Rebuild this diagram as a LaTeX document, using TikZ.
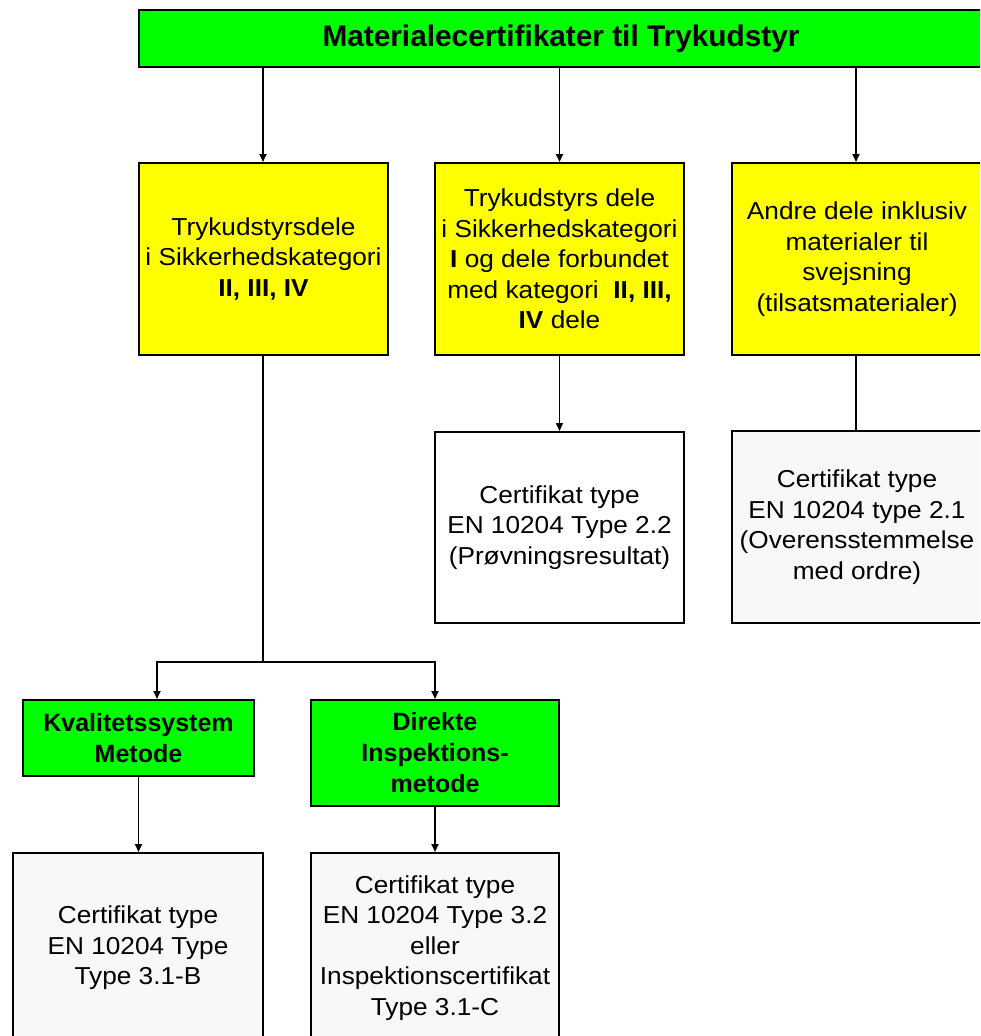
\documentclass[tikz,border=0pt]{standalone}
\usepackage{fontspec}
\setmainfont{Liberation Sans}
\newfontfamily\widefont{Liberation Sans}[FakeStretch=1.07]
\usetikzlibrary{arrows.meta}
\definecolor{boxgreen}{HTML}{00FF00}
\definecolor{boxyellow}{HTML}{FFFF00}
\definecolor{boxgray}{HTML}{F8F8F8}
\tikzset{
  box/.style={draw=black, line width=2pt, inner sep=0pt, align=center,
    font=\widefont\fontsize{24.5}{30.5}\selectfont},
  titlebox/.style={box, fill=boxgreen, minimum width=844pt, minimum height=57pt,
    font=\fontsize{29.8}{34}\selectfont\bfseries},
  catbox/.style={box, fill=boxyellow, minimum height=192pt},
  certbox/.style={box, minimum height=191pt},
  methodbox/.style={box, fill=boxgreen, font=\fontsize{25}{31}\selectfont\bfseries},
  conn/.style={line width=1.9pt},
  arr/.style={conn, -{Triangle[length=8pt,width=7pt]}}
}
\begin{document}
\begin{tikzpicture}[x=1pt, y=-1pt]
\useasboundingbox (0,0) rectangle (980,1036);
\clip (0,0) rectangle (980,1036);
\fill[white] (0,0) rectangle (980,1036);

\node[titlebox] (top) at (561,38.5) {Materialecertifikater til Trykudstyr};

\node[catbox, minimum width=249pt] (y1) at (263.5,259)
  {Trykudstyrsdele\\i Sikkerhedskategori\\\textbf{II, III, IV}};
\node[catbox, minimum width=249pt] (y2) at (559.5,259)
  {Trykudstyrs dele\\i Sikkerhedskategori\\\textbf{I} og dele forbundet\\med kategori\ \ \textbf{II, III,}\\\textbf{IV} dele};
\node[catbox, minimum width=250pt] (y3) at (857,259)
  {Andre dele inklusiv\\materialer til\\svejsning\\(tilsatsmaterialer)};

\node[certbox, fill=white, minimum width=249pt] (w2) at (559.5,527.5)
  {Certifikat type\\EN 10204 Type 2.2\\(Prøvningsresultat)};
\node[certbox, fill=boxgray, minimum width=250pt, minimum height=192pt] (w3) at (857,527)
  {Certifikat type\\EN 10204 type 2.1\\(Overensstemmelse\\med ordre)};

\node[methodbox, minimum width=231pt, minimum height=76pt] (ga) at (138.5,738)
  {Kvalitetssystem\\Metode};
\node[methodbox, minimum width=248pt, minimum height=106pt] (gb) at (435,753)
  {Direkte\\Inspektions-\\metode};

\node[certbox, fill=boxgray, minimum width=250pt, minimum height=190pt] (ba) at (138,948)
  {Certifikat type\\EN 10204 Type\\Type 3.1-B};
\node[certbox, fill=boxgray, minimum width=248pt, minimum height=190pt] (bb) at (435,948)
  {Certifikat type\\EN 10204 Type 3.2\\eller\\Inspektionscertifikat\\Type 3.1-C};

\coordinate (split) at (263,662);

\draw[arr] ([xshift=-0.5pt]y1.north |- top.south) -- ([xshift=-0.5pt]y1.north);
\draw[arr] (y2.north |- top.south) -- (y2.north);
\draw[arr] ([xshift=-1pt]y3.north |- top.south) -- ([xshift=-1pt]y3.north);
\draw[arr] (y2.south) -- (w2.north);
\draw[conn] ([xshift=-1pt]y3.south) -- ([xshift=-1pt]w3.north);
\draw[conn] ([xshift=-0.5pt]y1.south) -- (split);
\draw[arr] (split) -| ([xshift=18.5pt]ga.north);
\draw[arr] (split) -| (gb.north);
\draw[arr] (ga.south) -- (ga.south |- ba.north);
\draw[arr] (gb.south) -- (bb.north);
\end{tikzpicture}
\end{document}
